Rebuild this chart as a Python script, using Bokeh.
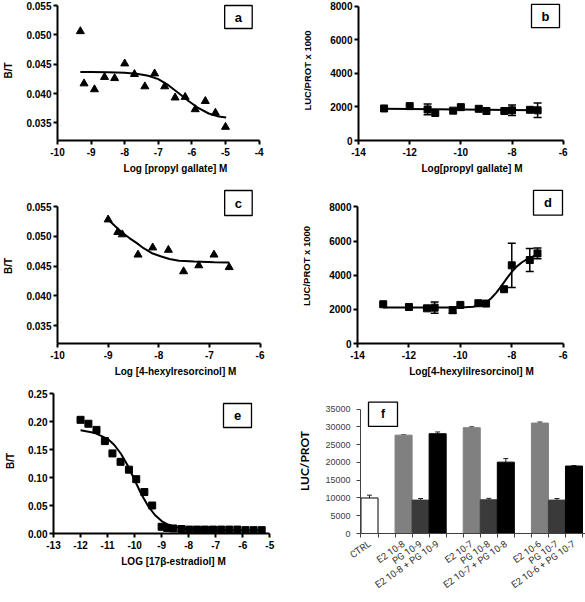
import math
from bokeh.plotting import figure
from bokeh.models import (Range1d, FixedTicker, BoxAnnotation, Label,
                          ColumnDataSource, Whisker, TeeHead)
from bokeh.layouts import row, column
from bokeh.embed import file_html
from bokeh.resources import INLINE

# ---------------- data ----------------
# (a) binding, propyl gallate
a_logc = [-9.32, -9.21, -8.90, -8.60, -8.30, -8.00, -7.71, -7.40, -7.11, -6.81,
          -6.50, -6.20, -5.90, -5.60, -5.30, -5.00]
a_bt = [0.0506, 0.0417, 0.0407, 0.0428, 0.0426, 0.0451, 0.0433, 0.0412, 0.0434,
        0.0412, 0.0393, 0.0394, 0.0373, 0.0387, 0.0367, 0.0343]
a_fit_logc = [-9.32, -9.0, -8.5, -8.0, -7.6, -7.3, -7.0, -6.7, -6.4, -6.1, -5.8,
              -5.5, -5.2, -4.98]
a_fit_bt = [0.04368, 0.04367, 0.04364, 0.04355, 0.04333, 0.04303, 0.04245,
            0.04142, 0.04010, 0.03873, 0.03750, 0.03660, 0.03610, 0.03590]
a_xticks = [-10, -9, -8, -7, -6, -5, -4]
a_yticks = [0.035, 0.040, 0.045, 0.050, 0.055]

# (b) reporter, propyl gallate
b_logc = [-13.0, -12.0, -11.3, -11.0, -10.3, -10.0, -9.3, -9.0, -8.3, -8.0, -7.3, -7.0]
b_luc = [1910, 2050, 1850, 1640, 1780, 1990, 1890, 1760, 1760, 1800, 1830, 1800]
b_err = [0, 0, 320, 0, 0, 0, 0, 0, 0, 310, 0, 430]
b_fit_logc = [-13.0, -10.0, -7.0]
b_fit_luc = [1890, 1850, 1800]
b_xticks = [-14, -12, -10, -8, -6]
b_yticks = [0, 2000, 4000, 6000, 8000]

# (c) binding, 4-hexylresorcinol
c_logc = [-9.0, -8.81, -8.72, -8.41, -8.12, -7.81, -7.51, -7.21, -6.91, -6.61]
c_bt = [0.0528, 0.0507, 0.0503, 0.0469, 0.0481, 0.0477, 0.0441, 0.0451, 0.0469, 0.0448]
c_fit_logc = [-9.0, -8.86, -8.72, -8.58, -8.44, -8.3, -8.12, -7.95, -7.79, -7.6,
              -7.3, -6.9, -6.61]
c_fit_bt = [0.0528, 0.0517, 0.0506, 0.0497, 0.0489, 0.0480, 0.0471, 0.0466,
            0.0462, 0.0459, 0.04575, 0.04565, 0.0456]
c_xticks = [-10, -9, -8, -7, -6]
c_yticks = [0.035, 0.040, 0.045, 0.050, 0.055]

# (d) reporter, 4-hexylresorcinol
d_logc = [-13.0, -12.0, -11.3, -11.0, -10.3, -10.0, -9.3, -9.0, -8.3, -8.0, -7.3, -7.0]
d_luc = [2300, 2140, 2060, 2100, 1950, 2260, 2360, 2340, 3180, 4580, 4890, 5280]
d_err = [0, 0, 0, 330, 180, 0, 0, 0, 0, 1300, 670, 320]
d_fit_logc = [-13.0, -10.0, -9.5, -9.2, -9.0, -8.8, -8.6, -8.4, -8.2, -8.0, -7.8,
              -7.6, -7.4, -7.2, -7.0]
d_fit_luc = [2105, 2110, 2150, 2250, 2400, 2650, 2980, 3380, 3800, 4200, 4520,
             4760, 4940, 5080, 5200]
d_xticks = [-14, -12, -10, -8, -6]
d_yticks = [0, 2000, 4000, 6000, 8000]

# (e) binding, 17beta-estradiol
e_logc = [-12.0, -11.71, -11.41, -11.10, -10.82, -10.52, -10.21, -9.94, -9.64,
          -9.35, -9.0, -8.8, -8.57, -8.27, -7.98, -7.69, -7.4, -7.1, -6.8, -6.5,
          -6.2, -5.9, -5.6, -5.3]
e_bt = [0.203, 0.196, 0.185, 0.165, 0.143, 0.128, 0.114, 0.097, 0.074, 0.050,
        0.012, 0.010, 0.009, 0.008, 0.007, 0.007, 0.007, 0.007, 0.007, 0.007,
        0.007, 0.006, 0.006, 0.006]
e_fit_logc = [-12.0, -11.5, -11.0, -10.75, -10.5, -10.25, -10.0, -9.75, -9.5,
              -9.25, -9.0, -8.75, -8.5, -8.0, -7.0, -5.3]
e_fit_bt = [0.1842, 0.180, 0.169, 0.158, 0.142, 0.121, 0.0955, 0.070, 0.049,
            0.033, 0.0223, 0.0155, 0.0117, 0.0078, 0.0062, 0.006]
e_xticks = [-13, -12, -11, -10, -9, -8, -7, -6, -5]
e_yticks = [0.00, 0.05, 0.10, 0.15, 0.20, 0.25]

# (f) luciferase / protein bars
f_labels = ["CTRL", "E2 10-8", "PG 10-9", "E2 10-8 + PG 10-9",
            "E2 10-7", "PG 10-8", "E2 10-7 + PG 10-8",
            "E2 10-6", "PG 10-7", "E2 10-6 + PG 10-7"]
f_values = [10000, 27700, 9400, 28100, 29800, 9500, 20100, 31100, 9400, 19000]
f_errors = [800, 100, 450, 500, 250, 400, 1000, 300, 450, 150]
f_kind = ["ctrl", "e2", "pg", "mix", "e2", "pg", "mix", "e2", "pg", "mix"]
f_yticks = [0, 5000, 10000, 15000, 20000, 25000, 30000, 35000]

KIND_FILL = {"ctrl": "#ffffff", "e2": "#808080", "pg": "#3a3a3a", "mix": "#000000"}
KIND_LINE = {"ctrl": "#000000", "e2": None, "pg": None, "mix": None}

FONT = "Liberation Sans"
XLFONT = "Roboto"


def make_sci(width, height, left, bottom, xlo, xhi, x_px_hi, ylo, yhi, y_px_hi):
    sx = (x_px_hi - left) / (xhi - xlo)
    sy = (bottom - y_px_hi) / (yhi - ylo)
    x_right = xlo + (width - left) / sx
    y_top = ylo + bottom / sy
    p = figure(width=width, height=height,
               x_range=Range1d(xlo, x_right), y_range=Range1d(ylo, y_top),
               min_border_left=left, min_border_right=0, min_border_top=0,
               min_border_bottom=height - bottom,
               output_backend="svg", toolbar_location=None)
    p.xaxis.bounds = (xlo, xhi)
    p.yaxis.bounds = (ylo, yhi)
    p.xgrid.visible = False
    p.ygrid.visible = False
    p.outline_line_color = None
    for ax in (p.xaxis[0], p.yaxis[0]):
        ax.axis_line_width = 2
        ax.axis_line_color = "black"
        ax.major_tick_line_width = 2
        ax.major_tick_line_color = "black"
        ax.major_tick_out = 4
        ax.major_tick_in = 0
        ax.minor_tick_out = 0
        ax.minor_tick_in = 0
        ax.major_label_text_font = FONT
        ax.major_label_text_font_style = "bold"
        ax.major_label_text_font_size = "10px"
        ax.major_label_text_color = "black"
        ax.axis_label_text_font = FONT
        ax.axis_label_text_font_style = "bold"
        ax.axis_label_text_font_size = "10px"
        ax.axis_label_text_color = "black"
    p.xaxis.major_label_standoff = 3
    p.yaxis.major_label_standoff = 2
    p.xaxis.axis_label_standoff = 4
    mapping = (left, bottom, xlo, ylo, sx, sy)
    return p, mapping


def set_ticks(ax, ticks, fmt):
    ax.ticker = FixedTicker(ticks=ticks, minor_ticks=[])
    ax.major_label_overrides = {t: fmt(t) for t in ticks}


def tag(p, m, letter, px0, py0, px1, py1, font=FONT, size="13px"):
    left, bottom, xlo, ylo, sx, sy = m
    x0 = xlo + (px0 - left) / sx
    x1 = xlo + (px1 - left) / sx
    y0 = ylo + (bottom - py0) / sy
    y1 = ylo + (bottom - py1) / sy
    p.add_layout(BoxAnnotation(left=x0, right=x1, top=y0, bottom=y1,
                               fill_color="white", fill_alpha=1.0,
                               line_color="black", line_width=1.3, line_alpha=1.0))
    p.add_layout(Label(x=(x0 + x1) / 2, y=(y0 + y1) / 2, text=letter,
                       text_align="center", text_baseline="middle",
                       text_font=font, text_font_style="bold",
                       text_font_size=size, text_color="black"))


def whiskers(p, xs, ys, errs, head=8):
    sel = [i for i, e in enumerate(errs) if e > 0]
    src = ColumnDataSource(dict(
        base=[xs[i] for i in sel],
        upper=[ys[i] + errs[i] for i in sel],
        lower=[ys[i] - errs[i] for i in sel]))
    p.add_layout(Whisker(source=src, base="base", upper="upper", lower="lower",
                         line_color="black", line_width=1.5,
                         upper_head=TeeHead(size=head, line_color="black", line_width=1.5),
                         lower_head=TeeHead(size=head, line_color="black", line_width=1.5)))


fmt3 = lambda t: "%.3f" % t
fmt2 = lambda t: "%.2f" % t
fmti = lambda t: "%d" % t

LW, RW = 293, 292          # column widths
H1, H2, H3 = 188, 200, 213  # row heights

# ---------------- panel a ----------------
pa, ma = make_sci(LW, H1, 53, 140, -10, -4, 258, 0.032, 0.055, 5)
set_ticks(pa.xaxis[0], a_xticks, fmti)
set_ticks(pa.yaxis[0], a_yticks, fmt3)
pa.xaxis.axis_label = "Log [propyl gallate] M"
pa.yaxis.axis_label = "B/T"
pa.yaxis.axis_label_standoff = 9
pa.line(a_fit_logc, a_fit_bt, line_color="black", line_width=2)
pa.scatter(a_logc, a_bt, marker="triangle", size=8, color="black")
tag(pa, ma, "a", 223, 5, 251, 28)

# ---------------- panel b ----------------
pb, mb = make_sci(RW, H1, 65, 144, -14, -6, 269.7, 0, 8000, 6)
set_ticks(pb.xaxis[0], b_xticks, fmti)
set_ticks(pb.yaxis[0], b_yticks, fmti)
pb.xaxis.axis_label = "Log[propyl gallate] M"
pb.yaxis.axis_label = "LUC/PROT x 1000"
pb.yaxis.axis_label_text_font_size = "9.5px"
pb.yaxis.axis_label_standoff = 14
pb.line(b_fit_logc, b_fit_luc, line_color="black", line_width=2)
whiskers(pb, b_logc, b_luc, b_err)
pb.scatter(b_logc, b_luc, marker="square", size=7, color="black")
tag(pb, mb, "b", 238, 4, 266, 28)

# ---------------- panel c ----------------
pc, mc = make_sci(LW, H2, 53, 155, -10, -6, 259, 0.032, 0.055, 18)
set_ticks(pc.xaxis[0], c_xticks, fmti)
set_ticks(pc.yaxis[0], c_yticks, fmt3)
pc.xaxis.axis_label = "Log [4-hexylresorcinol] M"
pc.yaxis.axis_label = "B/T"
pc.yaxis.axis_label_standoff = 9
pc.line(c_fit_logc, c_fit_bt, line_color="black", line_width=2)
pc.scatter(c_logc, c_bt, marker="triangle", size=8, color="black")
tag(pc, mc, "c", 223, 2, 251, 27)

# ---------------- panel d ----------------
pd_, md = make_sci(RW, H2, 64, 157, -14, -6, 269.7, 0, 8000, 18.7)
set_ticks(pd_.xaxis[0], d_xticks, fmti)
set_ticks(pd_.yaxis[0], d_yticks, fmti)
pd_.xaxis.axis_label = "Log[4-hexylilresorcinol] M"
pd_.yaxis.axis_label = "LUC/PROT x 1000"
pd_.yaxis.axis_label_text_font_size = "9.5px"
pd_.yaxis.axis_label_standoff = 14
pd_.line(d_fit_logc, d_fit_luc, line_color="black", line_width=2)
whiskers(pd_, d_logc, d_luc, d_err)
pd_.scatter(d_logc, d_luc, marker="square", size=7, color="black")
tag(pd_, md, "d", 240, 2, 269, 27)

# ---------------- panel e ----------------
pe, me = make_sci(LW, H3, 53, 145, -13, -5, 269.3, 0.0, 0.25, 5)
set_ticks(pe.xaxis[0], e_xticks, fmti)
set_ticks(pe.yaxis[0], e_yticks, fmt2)
pe.xaxis.axis_label = "LOG [17\u03b2-estradiol] M"
pe.yaxis.axis_label = "B/T"
pe.yaxis.axis_label_standoff = 9
pe.line(e_fit_logc, e_fit_bt, line_color="black", line_width=2)
pe.scatter(e_logc, e_bt, marker="square", size=7, color="black")
tag(pe, me, "e", 223, 15, 251, 39)

# ---------------- panel f ----------------
F_W, F_H, F_LEFT, F_BOTTOM = RW, H3, 67, 149
slot_px, slot0_px = 17.04, 76
f_top_px = 21.3
f_slots = [0] + [2 + 4 * g + k for g in range(3) for k in range(3)]
fx_lo = -(slot0_px - F_LEFT) / slot_px
fx_hi = (F_W - slot0_px) / slot_px
fsy = (F_BOTTOM - f_top_px) / 35000.0
pf = figure(width=F_W, height=F_H,
            x_range=Range1d(fx_lo, fx_hi), y_range=Range1d(0, F_BOTTOM / fsy),
            min_border_left=F_LEFT, min_border_right=0, min_border_top=0,
            min_border_bottom=F_H - F_BOTTOM,
            output_backend="svg", toolbar_location=None)
pf.xgrid.visible = False
pf.ygrid.visible = False
pf.outline_line_color = None
fsrc = ColumnDataSource(dict(
    x=f_slots, top=f_values,
    fill=[KIND_FILL[k] for k in f_kind],
    line=[KIND_LINE[k] if KIND_LINE[k] else KIND_FILL[k] for k in f_kind]))
pf.vbar(x="x", top="top", bottom=0, width=1.0, source=fsrc,
        fill_color="fill", line_color="line", line_width=1)
wsrc = ColumnDataSource(dict(base=f_slots, lower=f_values,
                             upper=[v + e for v, e in zip(f_values, f_errors)]))
pf.add_layout(Whisker(source=wsrc, base="base", upper="upper", lower="lower",
                      line_color="#222222", line_width=1,
                      upper_head=TeeHead(size=5, line_color="#222222", line_width=1),
                      lower_head=None))
n_slots = f_slots[-1] + 1
xa = pf.xaxis[0]
xa.ticker = FixedTicker(ticks=f_slots,
                        minor_ticks=[s - 0.5 for s in range(n_slots)] + [n_slots - 0.5])
xa.major_label_overrides = {s: lab for s, lab in zip(f_slots, f_labels)}
xa.major_label_orientation = math.radians(35)
xa.major_tick_out = 0
xa.major_tick_in = 0
xa.minor_tick_out = 4
xa.minor_tick_in = 0
xa.minor_tick_line_color = "#404040"
xa.axis_line_color = "#404040"
xa.major_label_text_font = XLFONT
xa.major_label_text_font_size = "9.5px"
xa.major_label_text_color = "#333333"
xa.major_label_standoff = 5
ya = pf.yaxis[0]
ya.bounds = (0, 35000)
ya.ticker = FixedTicker(ticks=f_yticks, minor_ticks=[])
ya.major_label_overrides = {t: "%d" % t for t in f_yticks}
ya.axis_line_color = "#404040"
ya.major_tick_line_color = "#404040"
ya.major_tick_out = 4
ya.major_tick_in = 0
ya.minor_tick_out = 0
ya.minor_tick_in = 0
ya.major_label_text_font = FONT
ya.major_label_text_font_size = "9px"
ya.major_label_text_color = "#404040"
ya.major_label_standoff = 6
ya.axis_label = "LUC/PROT"
ya.axis_label_text_font = "Lato"
ya.axis_label_text_font_style = "bold"
ya.axis_label_text_font_size = "12px"
ya.axis_label_text_color = "black"
ya.axis_label_standoff = 10
fm = (F_LEFT, F_BOTTOM, fx_lo, 0.0, slot_px, fsy)
tag(pf, fm, "f", 75, 14, 104, 39, font=FONT, size="12px")

layout = column(row(pa, pb), row(pc, pd_), row(pe, pf))
open("out.html", "w").write(file_html(layout, INLINE))
